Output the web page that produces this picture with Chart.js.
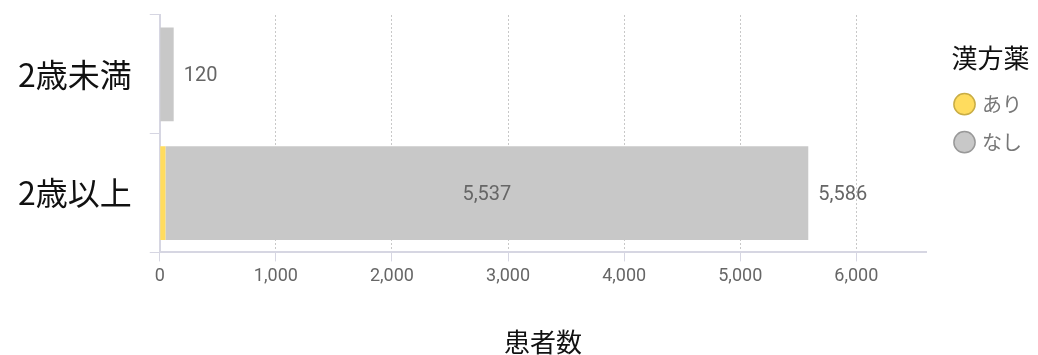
<!DOCTYPE html>
<html>
  <head>
    <meta charset="utf-8">
    <style>
      body { margin: 0; background: #fff; }
      #wrap { width: 1038px; height: 355px; }
    </style>
  </head>
  <body>
    <div id="wrap"><canvas id="kampoChart"></canvas></div>

    <script src="https://cdn.jsdelivr.net/npm/chart.js@4/dist/chart.umd.min.js"></script>
    <script>
      // data
      var categories = ['2歳未満', '2歳以上'];
      var seriesNames = ['あり', 'なし'];
      var ariValues = [0, 49];
      var nashiValues = [120, 5537];
      var xTicks = [0, 1000, 2000, 3000, 4000, 5000, 6000];

      var jpFont = "'Noto Sans CJK JP', 'Noto Sans', sans-serif";
      var numFont = "Roboto, 'Noto Sans CJK JP', sans-serif";

      // value labels: inner label on the なし bar if wide enough, total at the end
      var valueLabels = {
        id: 'valueLabels',
        afterDatasetsDraw: function(chart) {
          var ctx = chart.ctx;
          var m0 = chart.getDatasetMeta(0);
          var m1 = chart.getDatasetMeta(1);
          ctx.save();
          ctx.font = '20px ' + numFont;
          ctx.fillStyle = '#666';
          ctx.textBaseline = 'middle';
          categories.forEach(function(c, i) {
            var bar = m1.data[i];
            var w = Math.abs(bar.x - bar.base);
            if (w > 80) {
              ctx.textAlign = 'center';
              ctx.fillText(nashiValues[i].toLocaleString('en-US'), (bar.x + bar.base) / 2, bar.y + 2);
            }
            var total = ariValues[i] + nashiValues[i];
            var end = Math.max(bar.x, m0.data[i].x);
            ctx.textAlign = 'left';
            ctx.fillText(total.toLocaleString('en-US'), end + 10, bar.y + 2);
          });
          ctx.restore();
        }
      };

      // push the legend a little away from the plot
      var legendShift = {
        id: 'legendShift',
        afterLayout: function(chart) {
          var lg = chart.legend;
          if (lg) {
            lg.left += 13;
            lg.width += 10;
            lg.right = lg.left + lg.width;
          }
        }
      };

      var ctx = document.getElementById('kampoChart').getContext('2d');
      var kampoChart = new Chart(ctx, {
        type: 'bar',
        data: {
          labels: categories,
          datasets: [{
            label: seriesNames[0],
            data: ariValues,
            backgroundColor: '#ffdc5e',
            borderColor: '#c9ad45',
            borderWidth: 0,
            categoryPercentage: 0.79,
            barPercentage: 1
          }, {
            label: seriesNames[1],
            data: nashiValues,
            backgroundColor: '#c8c8c8',
            borderColor: '#999999',
            borderWidth: 0,
            categoryPercentage: 0.79,
            barPercentage: 1
          }]
        },
        options: {
          indexAxis: 'y',
          responsive: true,
          maintainAspectRatio: false,
          animation: false,
          layout: { padding: { top: 15, left: 0, right: 4, bottom: 0 } },
          scales: {
            x: {
              stacked: true,
              min: 0,
              max: 6600,
              afterBuildTicks: function(axis) {
                axis.ticks = xTicks.map(function(v) { return { value: v }; });
              },
              afterFit: function(axis) {
                var lg = axis.chart.legend;
                if (lg) axis.paddingRight = lg.width + 4 + 15;
              },
              grid: {
                color: '#c8c8c8',
                tickColor: '#d6d6e2',
                tickLength: 9,
                tickBorderDash: [],
                drawOnChartArea: true
              },
              border: { color: '#d6d6e2', width: 2, dash: [2, 2] },
              ticks: {
                color: '#666',
                font: { size: 18, family: numFont },
                padding: 4
              },
              title: {
                display: true,
                text: '患者数',
                color: '#111',
                font: { size: 26, family: jpFont, lineHeight: 1.0 },
                padding: { top: 38, bottom: 0 }
              }
            },
            y: {
              stacked: true,
              afterFit: function(axis) {
                axis.paddingTop = 0;
                axis.paddingBottom = 0;
              },
              grid: {
                offset: true,
                drawOnChartArea: false,
                color: '#d6d6e2',
                tickLength: 10
              },
              border: { color: '#d6d6e2', width: 2 },
              ticks: {
                color: '#111',
                font: { size: 32, family: jpFont },
                padding: 18
              }
            }
          },
          plugins: {
            legend: {
              position: 'right',
              align: 'start',
              title: {
                display: true,
                text: '漢方薬',
                color: '#111',
                align: 'end',
                font: { size: 26, family: jpFont },
                padding: { top: 30, bottom: 0 }
              },
              labels: {
                usePointStyle: true,
                pointStyle: 'circle',
                boxHeight: 15,
                boxWidth: 15,
                color: '#777',
                padding: 18,
                font: { size: 20, family: jpFont },
                generateLabels: function(chart) {
                  var items = Chart.defaults.plugins.legend.labels.generateLabels(chart);
                  items.forEach(function(it, i) {
                    it.lineWidth = 1.5;
                    it.strokeStyle = chart.data.datasets[i].borderColor;
                  });
                  return items;
                }
              }
            },
            tooltip: { enabled: false }
          }
        },
        plugins: [valueLabels, legendShift]
      });
    </script>
  </body>
</html>
